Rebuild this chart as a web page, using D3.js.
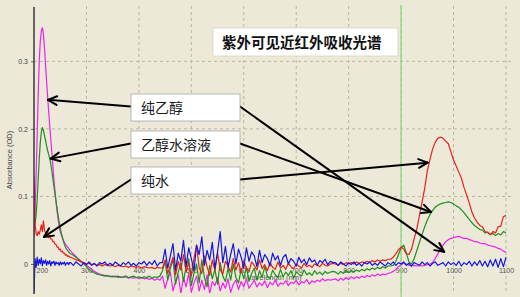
<!DOCTYPE html>
<html><head><meta charset="utf-8">
<script src="https://cdn.jsdelivr.net/npm/d3@7"></script>
<style>html,body{margin:0;padding:0;background:#ECE9D8;} svg{display:block}</style>
</head><body><svg id="c" width="520" height="297"></svg>
<script>
// ---- data (absorbance in mOD = OD x 1000) ----
const wavelengths = [
200,202,204,206,208,210,212,214,216,218,220,222,224,226,228,230,232,234,236,238,240,242,244,246,248,250,252,254,256,258,260,262,264,266,268,
270,275,280,285,290,295,300,305,310,315,320,325,330,335,340,345,350,355,360,365,370,375,380,385,390,395,400,405,410,415,420,425,430,435,440,
445,450,455,460,465,470,475,480,485,490,495,500,505,510,515,520,525,530,535,540,545,550,555,560,565,570,575,580,585,590,595,600,605,610,615,620,625,630,635,640,645,650,655,660,665,670,675,680,685,690,695,700,705,710,715,720,725,730,735,740,745,750,755,760,765,770,
775,780,785,790,795,800,805,810,815,820,825,830,835,840,845,850,855,860,865,870,875,
880,885,890,895,900,905,910,915,920,925,930,935,940,945,950,955,960,965,970,975,980,985,990,995,1000,1005,1010,1015,1020,1025,1030,1035,1040,1045,1050,1055,1060,1065,1070,1075,1080,1085,1090,1095,1100];

const pureEthanol = [
40,80,130,190,250, 300,330,345,350,340, 320,295,270,248,225, 205,185,165,145,125, 108,92,78,66,56, 48,43,39,35,32, 29,27,25,23,21,
19,15,11,7,4, 1,-2,-5,-8,-11, -13,-15,-16,-17,-18, -18,-19,-18,-20,-19, -20,-19,-21,-20,-21, -20,-22,-20,-22,-21, -23,-21,-24,-22,-24,
-18,-36,-22,-12,-40, -26,-16,-44,-20,-34, -14,-42,-28,-18,-40, -24,-38,-16,-44,-26, -32,-20,-40,-28,-36, -22,-42,-30,-24,-38, -26,-34,-22,-36,-30, -24,-34,-28,-32,-25, -35,-27,-31,-24,-33, -28,-30,-25,-32,-27, -29,-24,-31,-26,-28, -23,-30,-25,-27,-24, -26,-22,-25,-23,-24,-23,
-22,-25,-21,-24,-20, -23,-19,-22,-19,-21, -18,-20,-17,-19,-16, -18,-15,-17,-15,-16, -14,
-13,-11,-8,-4,-1, 1,0,-2,-3,-2, -3,-2,-3,-2,-1, 0,2,8,15,22, 28,33,36,38,39, 40,41,39,38,38, 36,35,33,33,31, 30,30,28,27,26, 25,23,22,19,17];

const ethanolSolution = [
70,60,72,95,125, 155,180,195,202,198, 190,183,175,168,162, 156,148,138,126,115, 104,93,82,72,62, 54,46,40,34,29, 25,22,20,18,16,
15,13,10,7,3, 0,-4,-8,-11,-13, -15,-16,-17,-18,-17, -19,-18,-19,-18,-20, -19,-18,-20,-19,-18, -20,-19,-21,-19,-20, -18,-21,-19,-20,-18,
-10,4,-24,-6,6, -30,-12,2,-26,-4, 8,-32,-14,0,-28, 6,-20,-34,-2,-22, -8,-30,2,-18,-26, -6,-24,0,-20,-28, -8,-22,-4,-26,-14, -6,-24,-10,-20,-4, -18,-22,-9,-16,-20, -8,-19,-12,-17,-10, -21,-12,-15,-18,-9, -16,-13,-17,-10,-15, -12,-16,-11,-14,-12,-11,
-12,-15,-11,-14,-10, -13,-10,-12,-9,-11, -8,-10,-7,-9,-6, -8,-5,-7,-4,-6, -3,
-3,-2,4,14,24, 28,16,3,0,8, 20,32,44,55,65, 73,79,84,87,89, 90,91,92,91,89, 86,84,80,76,71, 66,61,57,54,51, 50,46,47,44,45, 42,45,43,48,46];

const pureWater = [
130,60,45,42,48, 44,50,58,48,64, 50,46,44,44,39, 42,37,37,33,33, 29,29,25,25,21, 22,18,19,16,16, 13,14,11,12,10,
10,8,6,5,3, 2,0,1,-1,0, -2,-1,-3,-1,-2, -3,-2,-4,-2,-3, -4,-3,-5,-3,-4, -5,-4,-6,-4,-5, -6,-5,-7,-5,-6,
-6,6,-14,-2,10, -16,4,-9,14,-12, 2,-18,8,28,-6, -14,12,-4,-17,6, -10,16,-8,-15,4, -3,-12,8,-9,2, -13,5,-6,-11,3, -2,-9,6,-7,-1, -10,2,-5,-8,3, -6,-2,-8,1,-4, -7,0,-3,-6,1, -4,-2,-5,0,-2, -4,1,-2,-3,0,1,
0,-2,1,-1,2, 0,2,0,3,1, 3,2,4,2,5, 3,6,4,6,5, 7,
7,10,15,21,25, 22,15,14,22,38, 52,72,92,112,138, 155,170,180,186,188, 186,182,178,166,154, 145,136,127,113,102, 90,77,68,62,57, 55,48,47,43,48, 46,55,56,70,72];

const baseline = [
-45,8,-5,10,-2, 7,0,9,-3,5, 1,6,-2,4,0, 5,-3,3,1,4, -2,3,0,2,-2, 3,-1,2,0,3, -2,1,2,-1,2,
2,-2,3,0,-3, 2,-1,3,-2,1, -3,2,0,3,-2, 1,-2,3,0,-3, 2,-1,3,-2,1, -3,2,0,4,-2, 3,-1,5,-3,2,
2,22,-6,12,30, -9,16,4,35,-4, 24,8,-10,28,14, 40,-2,20,6,32, -7,18,48,2,26, -5,14,30,0,22, 10,-6,24,4,18, 12,-4,20,2,14, 8,-3,16,6,12, -2,10,14,0,8, 4,-3,10,2,7, -1,9,3,6,-2, 5,2,7,-1,4,2,
2,-2,3,0,-3, 2,-1,3,-2,1, -3,2,0,3,-2, 1,-2,3,0,-3, 2,
-1,3,-2,2,0, 3,-2,1,-3,2, 0,-2,3,-1,2, -3,1,3,-2,0, 2,-3,3,-1,2, -2,4,-3,2,-1, 4,-3,3,-2,5, -3,4,-4,6,-3, 7,-5,8,-4,10];

const xTicks = [200,300,400,500,600,700,800,900,1000,1100];
const xTickLabels = ["200","300","400","500","600","700","800","900","1000","1100"];
const yTicks = [0,100,200,300];
const yTickLabels = ["0","0.1","0.2","0.3"];
const markerWavelength = 900;
const chartTitle = "紫外可见近红外吸收光谱";
const xTitle = "Wavelength (nm)";
const yTitle = "Absorbance (OD)";
const labelNames = ["纯乙醇","乙醇水溶液","纯水"];
// arrow tips in data coordinates [nm, mOD]: left tip, right tip for each label
const arrowTips = [
  [[226.5,243],[982,18]],
  [[232,156],[957,77]],
  [[219,40],[950.5,150]]
];

// ---- drawing ----
const svg = d3.select("#c");
const W = 520, H = 297;
const x = d3.scaleLinear().domain([200,1100]).range([34,506]);
const y = d3.scaleLinear().domain([-41.5,379]).range([292,8]);
const plotL = 34, plotR = 512, plotT = 6, plotB = 293;

svg.append("rect").attr("width",W).attr("height",H).attr("fill","#ECE9D8");

svg.append("defs").append("clipPath").attr("id","clip")
  .append("rect").attr("x",plotL).attr("y",plotT).attr("width",plotR-plotL).attr("height",plotB-plotT);

// grid
const grid = svg.append("g").attr("stroke","#B9B5A3").attr("stroke-dasharray","3,3").attr("stroke-width",1);
grid.selectAll("line.v").data(xTicks.slice(1)).join("line")
  .attr("x1",d=>x(d)).attr("x2",d=>x(d)).attr("y1",plotT).attr("y2",plotB);
grid.selectAll("line.h").data(yTicks.slice(1)).join("line")
  .attr("x1",plotL).attr("x2",plotR).attr("y1",d=>y(d)).attr("y2",d=>y(d));

// x axis labels (drawn at zero line, under data)
const xAxis = d3.axisBottom(x).tickValues(xTicks).tickFormat((d,i)=>xTickLabels[i]).tickSize(0).tickPadding(3);
const gx = svg.append("g").attr("transform",`translate(0,${y(0)+1})`).call(xAxis);
gx.select(".domain").remove();
gx.selectAll("text").attr("font-family","Arial, 'Liberation Sans', sans-serif").attr("font-size",7).attr("fill","#555");
gx.selectAll("text").filter((d,i)=>i===0).attr("text-anchor","start").attr("dx",2);
svg.append("text").attr("x",273).attr("y",280).attr("text-anchor","middle")
  .attr("font-family","Arial, 'Liberation Sans', sans-serif").attr("font-size",7.5).attr("fill","#555").text(xTitle);

// marker line at 900 nm
svg.append("line").attr("x1",x(markerWavelength)).attr("x2",x(markerWavelength))
  .attr("y1",5).attr("y2",H).attr("stroke","#8EDB8E").attr("stroke-width",1.5);

// y axis
const yAxis = d3.axisLeft(y).tickValues(yTicks).tickFormat((d,i)=>yTickLabels[i]).tickSize(3).tickPadding(3);
const gy = svg.append("g").attr("transform",`translate(${plotL},0)`).call(yAxis);
gy.select(".domain").remove();
gy.selectAll("line").attr("stroke","#666");
gy.selectAll("text").attr("font-family","Arial, 'Liberation Sans', sans-serif").attr("font-size",7).attr("fill","#444");
svg.append("text").attr("transform","translate(12,160) rotate(-90)").attr("text-anchor","middle")
  .attr("font-family","Arial, 'Liberation Sans', sans-serif").attr("font-size",7.5).attr("fill","#444").text(yTitle);

// series
const series = [
  {values: pureEthanol, color: "#F020F0"},
  {values: ethanolSolution, color: "#1E8F1E"},
  {values: pureWater, color: "#E8201A"},
  {values: baseline, color: "#1515E0"}
];
const line = d3.line().x((d,i)=>x(wavelengths[i])).y(d=>y(d));
const gs = svg.append("g").attr("clip-path","url(#clip)");
series.forEach(s=>{
  gs.append("path").attr("d",line(s.values)).attr("fill","none")
    .attr("stroke",s.color).attr("stroke-width",1.2).attr("stroke-linejoin","round");
});

// axis line
svg.append("line").attr("x1",plotL).attr("x2",plotL).attr("y1",7).attr("y2",294)
  .attr("stroke","#3a3a3a").attr("stroke-width",1.5);

// title box
svg.append("rect").attr("x",213).attr("y",28).attr("width",185).attr("height",28)
  .attr("fill","#fff").attr("stroke","#d6d3c6").attr("stroke-width",0.8);
svg.append("text").attr("x",222).attr("y",48)
  .attr("font-family","'Noto Sans CJK SC', sans-serif").attr("font-size",14.5).attr("font-weight","bold")
  .attr("fill","#111").text(chartTitle);

// label boxes and arrows
const boxX = 131, boxW = 109, boxH = 27, boxTops = [94,131,167];
const ga = svg.append("g").attr("stroke","#000").attr("stroke-width",2).attr("fill","none").attr("stroke-linecap","round");
function arrow(x1,y1,x2,y2){
  ga.append("line").attr("x1",x1).attr("y1",y1).attr("x2",x2).attr("y2",y2);
  const a = Math.atan2(y2-y1,x2-x1), L = 10, s = 0.45;
  [a+Math.PI-s, a+Math.PI+s].forEach(t=>{
    ga.append("line").attr("x1",x2).attr("y1",y2).attr("x2",x2+L*Math.cos(t)).attr("y2",y2+L*Math.sin(t));
  });
}
labelNames.forEach((name,i)=>{
  const top = boxTops[i], mid = top + boxH/2;
  const [lt, rt] = arrowTips[i];
  arrow(boxX, mid - 1, x(lt[0]), y(lt[1]));
  arrow(boxX+boxW, mid - 1, x(rt[0]), y(rt[1]));
});
labelNames.forEach((name,i)=>{
  const top = boxTops[i];
  svg.append("rect").attr("x",boxX).attr("y",top).attr("width",boxW).attr("height",boxH)
    .attr("fill","#fff").attr("stroke","#a8a8a8").attr("stroke-width",0.8);
  svg.append("text").attr("x",boxX+10).attr("y",top+19)
    .attr("font-family","'Noto Sans CJK SC', sans-serif").attr("font-size",14)
    .attr("fill","#1a1a1a").text(name);
});
</script>
</body></html>
